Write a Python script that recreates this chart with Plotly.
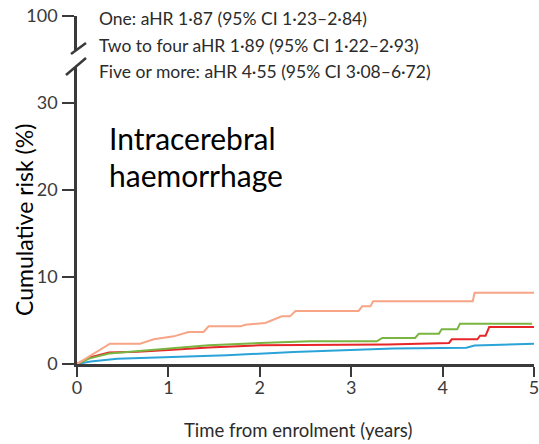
import plotly.graph_objects as go

# ---- data ----
x_ticks = [0, 1, 2, 3, 4, 5]
y_ticks = [0, 10, 20, 30]
y_top_tick = [100]

legend_lines = [
    "One: aHR 1·87 (95% CI 1·23–2·84)",
    "Two to four aHR 1·89 (95% CI 1·22–2·93)",
    "Five or more: aHR 4·55 (95% CI 3·08–6·72)",
]
panel_label = ["Intracerebral", "haemorrhage"]

five_x = [0, 0.18, 0.36, 0.69, 0.84, 1.06, 1.22, 1.385, 1.44, 1.79, 1.84, 2.06, 2.24,
          2.33, 2.39, 3.08, 3.12, 3.21, 3.24, 4.33, 4.35, 5.0]
five_y = [0, 1.2, 2.34, 2.34, 2.84, 3.18, 3.68, 3.68, 4.33, 4.33, 4.52, 4.72, 5.48,
          5.48, 6.10, 6.10, 6.63, 6.63, 7.21, 7.21, 8.20, 8.20]

two_four_x = [0, 0.14, 0.35, 0.66, 1.0, 1.44, 2.0, 2.55, 3.28, 3.34, 3.70, 3.74, 3.96,
              3.99, 4.16, 4.19, 4.98]
two_four_y = [0, 0.65, 1.2, 1.45, 1.75, 2.15, 2.42, 2.61, 2.61, 2.99, 2.99, 3.49, 3.49,
              3.99, 3.99, 4.64, 4.64]

one_x = [0, 0.14, 0.35, 0.66, 1.0, 1.44, 2.0, 3.4, 4.07, 4.1, 4.38, 4.41, 4.47, 4.51, 5.0]
one_y = [0, 0.75, 1.32, 1.4, 1.6, 1.9, 2.15, 2.25, 2.42, 2.84, 2.84, 3.25, 3.25, 4.25, 4.25]

none_x = [0, 0.15, 0.44, 1.0, 1.64, 2.37, 3.0, 3.46, 4.26, 4.35, 5.0]
none_y = [0, 0.3, 0.6, 0.8, 1.0, 1.38, 1.6, 1.77, 1.88, 2.12, 2.33]

# ---- figure ----
fig = go.Figure()
fig.add_trace(go.Scatter(x=none_x, y=none_y, mode="lines",
                         line=dict(color="#2aa3d8", width=2), hoverinfo="skip"))
fig.add_trace(go.Scatter(x=one_x, y=one_y, mode="lines",
                         line=dict(color="#e8262a", width=2), hoverinfo="skip"))
fig.add_trace(go.Scatter(x=two_four_x, y=two_four_y, mode="lines",
                         line=dict(color="#79b540", width=2), hoverinfo="skip"))
fig.add_trace(go.Scatter(x=five_x, y=five_y, mode="lines",
                         line=dict(color="#f8a486", width=2), hoverinfo="skip"))
# invisible trace so the upper (broken) axis segment is drawn
fig.add_trace(go.Scatter(x=[0], y=[100], yaxis="y2", mode="markers",
                         marker=dict(opacity=0), hoverinfo="skip"))

axis_col = "#3a3a3a"
tick_font = dict(family="Lato", size=18, color="#3a3a3a")

fig.update_layout(
    width=539, height=444,
    margin=dict(l=77, r=5, t=16, b=80),
    paper_bgcolor="white", plot_bgcolor="white",
    showlegend=False,
    xaxis=dict(range=[0, 5], tickvals=x_ticks, ticks="outside", ticklen=10,
               tickwidth=2, tickcolor=axis_col, showline=True, linewidth=2.5,
               linecolor=axis_col, showgrid=False, zeroline=False,
               tickfont=tick_font, anchor="y", ticklabelstandoff=-4,
               ticklabeloverflow="allow", automargin=False),
    yaxis=dict(domain=[0, 0.853], range=[0, 34.14], tickvals=y_ticks,
               ticks="outside", ticklen=12, tickwidth=2, tickcolor=axis_col,
               showline=True, linewidth=2.5, linecolor=axis_col,
               showgrid=False, zeroline=False, tickfont=tick_font, anchor="x",
               ticklabelstandoff=1, automargin=False),
    yaxis2=dict(domain=[0.902, 1], range=[90, 100], tickvals=y_top_tick,
                ticks="outside", ticklen=12, tickwidth=2, tickcolor=axis_col,
                showline=True, linewidth=2.5, linecolor=axis_col,
                showgrid=False, zeroline=False, tickfont=tick_font, anchor="x",
                ticklabelstandoff=1, ticklabeloverflow="allow", automargin=False),
)

# axis break slashes (pixel positions relative to plot area origin 77,364)
for (x0, y0, x1, y1) in [(71, 54, 86, 43), (66, 75, 86, 58)]:
    fig.add_shape(type="line", xref="paper", yref="paper",
                  x0=(x0 - 77) / 457, y0=(364 - y0) / 348,
                  x1=(x1 - 77) / 457, y1=(364 - y1) / 348,
                  line=dict(color=axis_col, width=2.5))

# legend text lines
for txt, ypix in zip(legend_lines, [18, 45, 71]):
    fig.add_annotation(text=txt, xref="paper", yref="paper",
                       x=(97 - 77) / 457, y=(364 - ypix) / 348,
                       xanchor="left", yanchor="middle", showarrow=False,
                       font=dict(family="Lato", size=17.5, color="#2b2b2b"))

# panel label
for txt, ypix in zip(panel_label, [138, 175]):
    fig.add_annotation(text=txt, xref="paper", yref="paper",
                       x=(107 - 77) / 457, y=(364 - ypix) / 348,
                       xanchor="left", yanchor="middle", showarrow=False,
                       font=dict(family="Lato", size=30, color="black"))

# axis titles
fig.add_annotation(text="Cumulative risk (%)", xref="paper", yref="paper",
                   x=(24 - 77) / 457, y=(364 - 220) / 348, textangle=-90,
                   xanchor="center", yanchor="middle", showarrow=False,
                   font=dict(family="Lato", size=23, color="black"))
fig.add_annotation(text="Time from enrolment (years)", xref="paper", yref="paper",
                   x=(298 - 77) / 457, y=(364 - 430) / 348,
                   xanchor="center", yanchor="middle", showarrow=False,
                   font=dict(family="Lato", size=18.5, color="#2b2b2b"))

# remove the default page margin so the 539x444 figure fills the window
fig.write_html("out.html",
               config={"displayModeBar": False},
               post_script="document.body.style.margin='0px';"
                           "document.body.style.overflow='hidden';")
